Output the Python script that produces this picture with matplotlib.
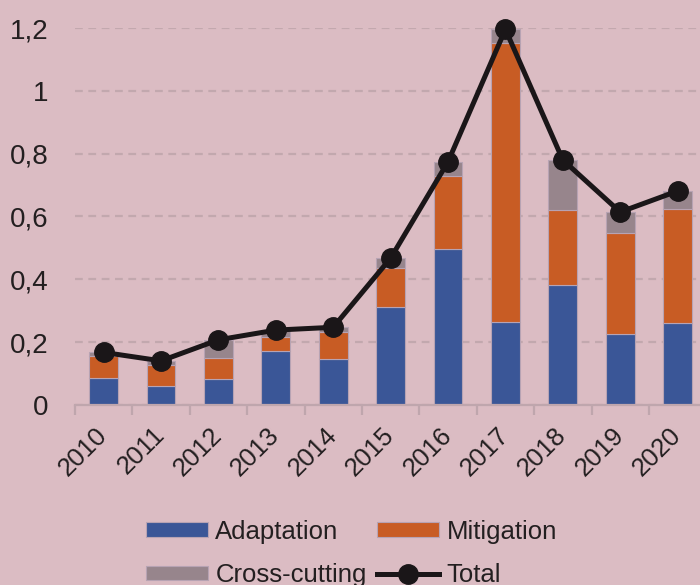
import matplotlib.pyplot as plt
import numpy as np

years = ['2010', '2011', '2012', '2013', '2014', '2015', '2016', '2017', '2018', '2019', '2020']
adaptation = [0.087, 0.061, 0.083, 0.173, 0.146, 0.310, 0.495, 0.265, 0.383, 0.227, 0.262]
mitigation = [0.070, 0.066, 0.066, 0.043, 0.087, 0.127, 0.235, 0.889, 0.239, 0.319, 0.362]
cross_cutting = [0.010, 0.013, 0.058, 0.022, 0.014, 0.030, 0.044, 0.042, 0.158, 0.068, 0.057]
yticks = [0, 0.2, 0.4, 0.6, 0.8, 1.0, 1.2]
ytick_labels = ['0', '0,2', '0,4', '0,6', '0,8', '1', '1,2']

bg = '#dbbcc3'
plt.rcParams['font.family'] = ['Liberation Sans', 'DejaVu Sans']

adaptation = np.array(adaptation)
mitigation = np.array(mitigation)
cross_cutting = np.array(cross_cutting)
total = adaptation + mitigation + cross_cutting
x = np.arange(len(years))

fig = plt.figure(figsize=(7, 5.85), dpi=100, facecolor=bg)
ax = fig.add_axes([0.107, 0.308, 0.902, 0.644])
ax.set_facecolor(bg)

width = 0.5
edge = dict(edgecolor='#b7a3b3', linewidth=0.8)
b_ad = ax.bar(x, adaptation, width, color='#3a5697', label='Adaptation', zorder=2, **edge)
b_mi = ax.bar(x, mitigation, width, bottom=adaptation, color='#c85c24', label='Mitigation', zorder=2, **edge)
b_cc = ax.bar(x, cross_cutting, width, bottom=adaptation + mitigation, color='#97858c',
              label='Cross-cutting', zorder=2, **edge)
l_tot, = ax.plot(x, total, color='#1a1618', linewidth=3.6, marker='o', markersize=14,
                 label='Total', zorder=3, clip_on=False)

ax.set_xlim(-0.5, len(years) - 0.5)
ax.set_ylim(0, 1.2)
ax.set_yticks(yticks)
ax.set_yticklabels(ytick_labels)
ax.yaxis.grid(True, linestyle=(0, (3.5, 2.5)), color='#c2a8ae', linewidth=1.6, zorder=0)
ax.tick_params(axis='y', length=0, pad=19, labelsize=20, labelcolor='#231f20')

ax.set_xticks(x)
ax.set_xticklabels(years, rotation=45, ha='right', va='center', rotation_mode='anchor')
ax.set_xticks(np.arange(-0.5, len(years)), minor=True)
ax.tick_params(axis='x', which='major', length=0, pad=19, labelsize=18.5, labelcolor='#231f20')
ax.tick_params(axis='x', which='minor', length=7, width=1.6, color='#bfa6ad')

for side in ['top', 'right', 'left']:
    ax.spines[side].set_visible(False)
ax.spines['bottom'].set_color('#bfa6ad')
ax.spines['bottom'].set_linewidth(1.6)

# two rows: Adaptation / Mitigation, then Cross-cutting / Total
fig.legend([b_ad, b_cc, b_mi, l_tot], ['Adaptation', 'Cross-cutting', 'Mitigation', 'Total'],
           loc='center', bbox_to_anchor=(0.502, 0.054), ncol=2, frameon=False,
           fontsize=18.5, handlelength=2.4, handleheight=0.5, handletextpad=0.3,
           columnspacing=0.4, labelspacing=0.75, labelcolor='#231f20')

plt.savefig('out.png', dpi=100, facecolor=bg)
